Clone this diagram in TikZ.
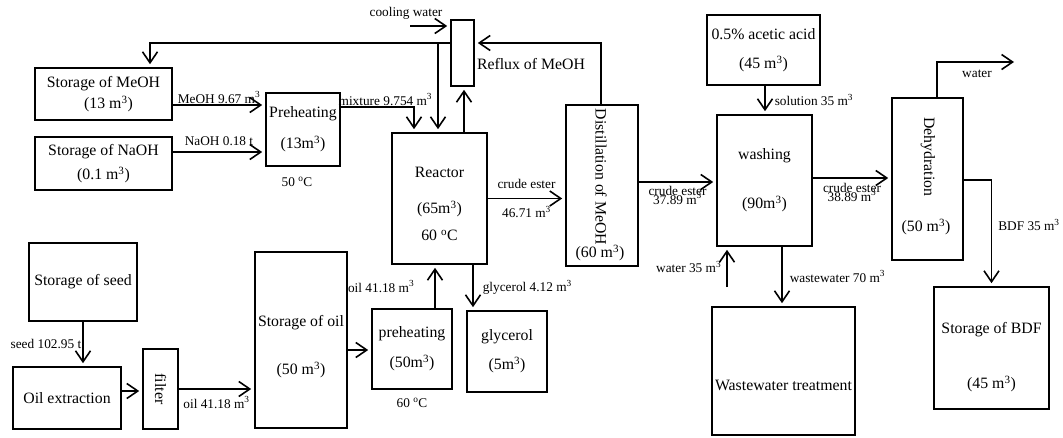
\documentclass[tikz,border=0pt]{standalone}
\usepackage{fontspec}
\setmainfont{Liberation Serif}
\usepackage{graphicx}
\usetikzlibrary{arrows.meta,positioning}
\newcommand{\mainfs}{\fontsize{15.8}{18}\selectfont}
\newcommand{\lblfs}{\fontsize{13.3}{15}\selectfont}
\newcommand{\cube}{\textsuperscript{3}}
\newcommand{\degc}{\textsuperscript{o}C}

\begin{document}
\begin{tikzpicture}[x = 1pt, y = -1pt,
		box/.style = {rectangle, draw, line width = 1.6pt, inner sep = 0pt, align = center, font = \mainfs},
		txt/.style = {inner sep = 0pt, font = \mainfs},
		lbl/.style = {inner sep = 1pt, font = \lblfs},
		flow/.style = {line width = 1.6pt, shorten > = 3pt, -{Straight Barb[length = 11pt, width = 15pt]}},
		]
		\useasboundingbox (0,0) rectangle (1063,437);
		
		%methanol side
		\node[box, minimum width = 137pt, minimum height = 52pt](meoh) at (103.5,94){Storage of MeOH\\[3pt]\hspace*{10pt}(13 m\cube)};
		\node[box, minimum width = 137pt, minimum height = 53pt](naoh) at (103.5,163.5){Storage of NaOH\\[6pt](0.1 m\cube)};
		\node[box, minimum width = 74pt, minimum height = 73pt](preA) at (303,129.5){Preheating\\[13pt](13m\cube)};
		\node[lbl, below = 9pt of preA, xshift = -6pt](preAtemp){50 \degc};
		\node[box, minimum width = 23pt, minimum height = 66pt](reflux) at (462.5,53){};
		\node[txt, right = 2pt of reflux.east, yshift = -11pt](refluxname){Reflux of MeOH};
		\node[lbl](cwname) at (406,13){cooling water};
		\coordinate (cw) at (410,26);
		
		%reactor and distillation
		\node[box, minimum width = 95pt, minimum height = 131pt](reactor) at (439.5,198.5){\rule{0pt}{21pt}Reactor\\[18pt](65m\cube)\\[9pt]60 \degc};
		\node[box, minimum width = 72pt, minimum height = 161pt](dist) at (602,185.5){};
		\node[txt](distname) at (601,177){\rotatebox{-90}{Distillation of MeOH}};
		\node[txt](distvol) at (600,253){(60 m\cube)};
		
		%washing and dehydration
		\node[box, minimum width = 113pt, minimum height = 70pt](acid) at (763.5,50){0.5\% acetic acid\\[11pt](45 m\cube)};
		\node[box, minimum width = 95pt, minimum height = 131pt](wash) at (764.5,180.5){washing\\[31pt](90m\cube)};
		\node[box, minimum width = 71pt, minimum height = 162pt](dehy) at (927.5,179){};
		\node[txt](dehyname) at (928,157){\rotatebox{-90}{Dehydration}};
		\node[txt](dehyvol) at (926,227){(50 m\cube)};
		\node[box, minimum width = 115pt, minimum height = 122pt](bdf) at (991.5,348){\rule{0pt}{30pt}Storage of BDF\\[37pt](45 m\cube)};
		\node[box, minimum width = 143pt, minimum height = 128pt](wwt) at (783.5,371){\rule{0pt}{39pt}Wastewater treatment};
		\coordinate (wout) at (1017,62);
		\coordinate (win) at (727,287);
		
		%oil side
		\node[box, minimum width = 108pt, minimum height = 78pt](seed) at (83,282){Storage of seed};
		\node[box, minimum width = 108pt, minimum height = 62pt](oilx) at (67,398){Oil extraction};
		\node[box, minimum width = 35pt, minimum height = 80pt](filter) at (160.5,389){\rotatebox{-90}{filter}};
		\node[box, minimum width = 92pt, minimum height = 176pt](oil) at (301,340){\rule{0pt}{25pt}Storage of oil\\[30pt](50 m\cube)};
		\node[box, minimum width = 80pt, minimum height = 80pt](preB) at (412,349){preheating\\[12pt](50m\cube)};
		\node[lbl, below = 7pt of preB](preBtemp){60 \degc};
		\node[box, minimum width = 80pt, minimum height = 81pt](glyc) at (507,351.5){glycerol\\[11pt](5m\cube)};
		
		%flows
		\draw[flow]([yshift = -11pt]meoh.east) coordinate (m1) -- (m1 -| preA.west) node[lbl, above, midway]{MeOH 9.67 m\cube};
		\draw[flow]([yshift = 11.5pt]naoh.east) coordinate (n1) -- (n1 -| preA.west) node[lbl, above, midway, yshift = 5pt]{NaOH 0.18 t};
		\draw[flow]([yshift = 22.5pt]preA.east) -| ([xshift = -25.5pt]reactor.north) node[lbl, above, pos = 0.25, xshift = 8pt]{mixture 9.754 m\cube};
		\draw[flow]([yshift = 10pt]reflux.west) coordinate (r1) -| ([xshift = 46.5pt]meoh.north);
		\coordinate (r3) at ([xshift = -1.5pt]reactor.north);
		\draw[flow](r3 |- r1) -- (r3);
		\draw[flow](cw) -- (cw -| reflux.west);
		\draw[flow]([xshift = 24.5pt]reactor.north) coordinate (r2) -- (r2 |- reflux.south);
		\draw[flow]([xshift = -1pt]dist.north) |- ([yshift = 10pt]reflux.east);
		\draw[flow](reactor.east) -- (reactor.east -| dist.west) node[lbl, above, midway, yshift = 8pt]{crude ester} node[lbl, below, midway, yshift = -6pt]{46.71 m\cube};
		\draw[flow]([yshift = 3.5pt]dist.east) coordinate (d1) -- (d1 -| wash.west) node[lbl, below, midway, yshift = -2pt]{crude ester} node[lbl, below, midway, yshift = -9pt]{37.89 m\cube};
		\draw[flow]([xshift = 1.5pt]acid.south) coordinate (a1) -- (a1 |- wash.north) node[lbl, right, midway, xshift = 8pt]{solution 35 m\cube};
		\draw[flow]([yshift = 2.5pt]wash.east) coordinate (w2) -- (w2 -| dehy.west) node[lbl, below, midway, yshift = -3pt]{crude ester} node[lbl, below, midway, yshift = -10pt]{38.89 m\cube};
		\draw[flow]([xshift = 9.5pt]dehy.north) |- (wout) node[lbl, below, pos = 0.75, yshift = -6pt]{water};
		\draw[flow]([yshift = -1pt]dehy.east) -| (bdf.north) node[lbl, right, pos = 0.75, xshift = 5pt, yshift = 8pt]{BDF 35 m\cube};
		\draw[flow]([xshift = 17.5pt]wash.south) coordinate (w1) -- (w1 |- wwt.north) node[lbl, right, midway, xshift = 6pt]{wastewater 70 m\cube};
		\draw[flow](win) -- (win |- wash.south) node[lbl, left, midway, xshift = -4pt]{water 35 m\cube};
		\draw[flow](seed.south) -- (seed.south |- oilx.north) node[lbl, left, midway]{seed 102.95 t};
		\draw[flow]([yshift = 7pt]oilx.east) coordinate (o1) -- (o1 -| filter.west);
		\draw[flow](filter.east) -- (filter.east -| oil.west) node[lbl, below, midway, yshift = -6pt]{oil 41.18 m\cube};
		\draw[flow]([yshift = -10pt]oil.east) coordinate (o2) -- (o2 -| preB.west);
		\draw[flow]([xshift = 23pt]preB.north) coordinate (o3) -- (o3 |- reactor.south) node[lbl, left, midway, xshift = -19pt]{oil 41.18 m\cube};
		\draw[flow]([xshift = 33.5pt]reactor.south) coordinate (g1) -- (g1 |- glyc.north) node[lbl, right, midway, xshift = 8pt]{glycerol 4.12 m\cube};

\end{tikzpicture}
\end{document}
